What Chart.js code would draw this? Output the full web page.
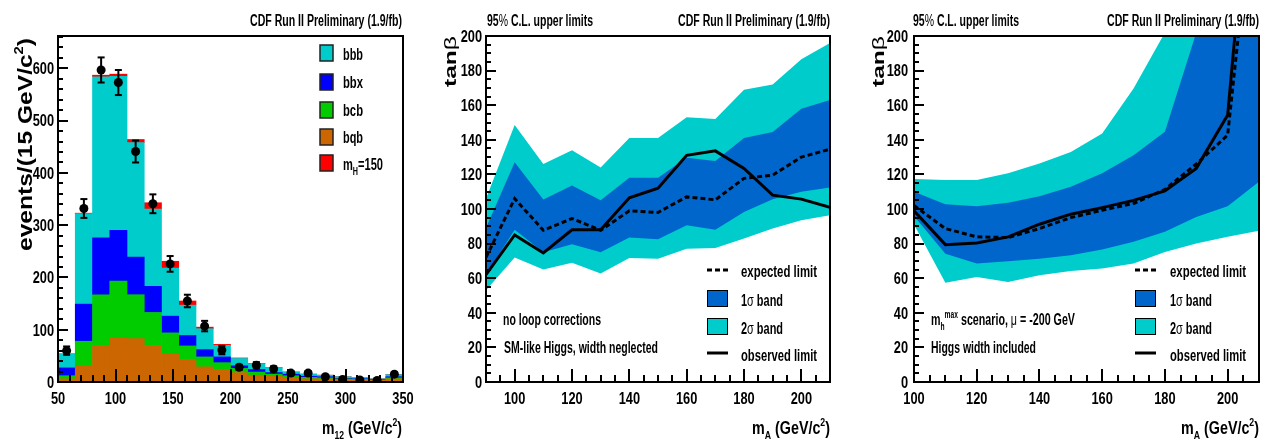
<!DOCTYPE html>
<html>
<head>
<meta charset="utf-8">
<script src="https://cdn.jsdelivr.net/npm/chart.js@4.4.1/dist/chart.umd.min.js"></script>
<style>
  html, body { margin: 0; padding: 0; background: #fff; width: 1266px; height: 439px; overflow: hidden; }
  canvas { position: absolute; left: 0; top: 0; }
</style>
</head>
<body>
<canvas id="hist" width="1266" height="439"></canvas>
<canvas id="limNoLoop" width="1266" height="439"></canvas>
<canvas id="limMhmax" width="1266" height="439"></canvas>
<script>
// ---- m12 spectrum: 15 GeV/c^2 bins from 50 to 350 ----
const binCenters = [57.5, 72.5, 87.5, 102.5, 117.5, 132.5, 147.5, 162.5, 177.5, 192.5,
                    207.5, 222.5, 237.5, 252.5, 267.5, 282.5, 297.5, 312.5, 327.5, 342.5];
const bqb      = [6, 31, 70, 85, 83, 70, 54, 43, 29, 24, 18, 13, 11, 9, 6, 6, 4, 4, 3, 6];
const bcb      = [6, 47, 97, 108, 84, 63, 40, 26, 19, 13, 8, 6, 4, 3, 3, 2, 2, 1, 1, 2];
const bbx      = [15, 71, 109, 97, 72, 50, 32, 20, 14, 11, 5, 5, 3, 3, 2, 2, 1, 1, 1, 2];
const bbb      = [26, 173, 308, 295, 219, 148, 92, 58, 40, 22, 14, 11, 9, 4, 4, 3, 3, 2, 1, 4];
const higgs150 = [1, 1, 3, 4, 6, 12, 13, 8, 3, 2, 1, 0.5, 0.5, 0.3, 0.2, 0.1, 0.1, 0.1, 0.1, 0.1];
const dataCounts = [60, 332, 597, 573, 441, 341, 226, 155, 107, 61, 28, 32, 25, 17, 17, 10, 5, 4, 3, 15];
const dataErrors = [8, 18, 24, 24, 21, 18, 15, 12, 10, 8, 5, 6, 5, 4, 4, 3, 2, 2, 2, 4];
const m12Ticks    = [50, 100, 150, 200, 250, 300, 350];
const eventsTicks = [0, 100, 200, 300, 400, 500, 600];

// ---- tan(beta) limits, no loop corrections ----
const mA1      = [90, 100, 110, 120, 130, 140, 150, 160, 170, 180, 190, 200, 210];
const nl2sUp   = [106, 148.5, 126, 134, 124, 141, 141, 153, 152, 169, 172, 186.5, 196];
const nl1sUp   = [89, 127, 105.5, 113.6, 105, 118, 118, 129.6, 127.7, 141, 144.5, 158, 163];
const nlExp    = [72, 106, 87.7, 94.5, 87.7, 99, 98, 107, 105.3, 117.7, 119.6, 130, 134.6];
const nl1sDown = [62, 88, 75, 79.6, 75, 83.5, 82.5, 90.6, 88, 98.3, 105.6, 110, 112.5];
const nl2sDown = [53, 72, 65, 69, 62.7, 71.7, 71.3, 77, 77.5, 83, 88.7, 93.5, 96.4];
const nlObs    = [62, 85, 74.6, 88, 88, 106.5, 112, 131, 133.6, 123.4, 108, 105.7, 101];

// ---- tan(beta) limits, m_h^max scenario, mu = -200 GeV ----
const mA2      = [100, 110, 120, 130, 140, 150, 160, 170, 180, 190, 200, 210];
const mx2sUp   = [117.3, 116.7, 116.7, 120.6, 126.3, 133, 143.7, 169.7, 202, 260, 300, 350];
const mx1sUp   = [110, 102.8, 101.6, 103.6, 107.4, 112.8, 120.6, 131, 144.6, 202, 260, 300];
const mxExp    = [102, 88.7, 83.9, 83.5, 88.7, 95, 99.3, 103.2, 111.3, 126, 142.7, 311];
const mx1sDown = [96, 74.2, 68.5, 69.8, 71.3, 73.3, 76.6, 81, 86.8, 95.4, 101.6, 115.7];
const mx2sDown = [91, 57.3, 60.7, 57.8, 61.7, 64.2, 65.6, 68.5, 75.2, 80, 84, 87.4];
const mxObs    = [99, 79.4, 80.4, 83.9, 91.2, 97, 100.8, 105, 110.5, 123.5, 154.3, 353];

const mATicks   = [100, 120, 140, 160, 180, 200];
const tanbTicks = [0, 20, 40, 60, 80, 100, 120, 140, 160, 180, 200];

// ---- styling ----
const SANS   = "'Liberation Sans', Arial, Helvetica, sans-serif";
const C_CYAN = '#00cccc', C_BLUE1S = '#0066cc';

const xy = (xs, ys) => xs.map((x, i) => ({ x, y: ys[i] }));

// Draws a run of text pieces (normal / sub / sup / symbol); squeezed to a width or by a factor.
function richText(ctx, parts, x, y, o) {
  if (typeof parts === 'string') parts = [{ t: parts }];
  const size = o.size || 15;
  const fontFor = p => {
    const s = (p.k === 'sub' || p.k === 'sup') ? Math.round(size * 0.62) : size;
    const w = p.k === 'sym' ? 'normal' : 'bold';
    return `${w} ${s}px ${SANS}`;
  };
  ctx.save();
  let total = 0;
  const widths = parts.map(p => { ctx.font = fontFor(p); const w = ctx.measureText(p.t).width; total += w; return w; });
  const sx = o.width ? o.width / total : (o.sx || 1);
  ctx.translate(x, y);
  if (o.rotate) ctx.rotate(o.rotate);
  const span = total * sx;
  ctx.translate(o.align === 'right' ? -span : o.align === 'center' ? -span / 2 : 0, 0);
  ctx.scale(sx, 1);
  ctx.fillStyle = '#000';
  ctx.textAlign = 'left';
  ctx.textBaseline = 'alphabetic';
  let cx = 0;
  parts.forEach((p, i) => {
    ctx.font = fontFor(p);
    const dy = p.k === 'sub' ? size * 0.3 : p.k === 'sup' ? -size * 0.45 : 0;
    ctx.fillText(p.t, cx, dy);
    cx += widths[i];
  });
  ctx.restore();
}

function seg(ctx, x1, y1, x2, y2) { ctx.beginPath(); ctx.moveTo(x1, y1); ctx.lineTo(x2, y2); ctx.stroke(); }

// Frame box, inward major/minor ticks and condensed tick labels on the left and bottom axes.
function frameTicks(opt) {
  return {
    id: 'frameTicks',
    afterDatasetsDraw(chart) {
      const { ctx, chartArea: a, scales: { x, y } } = chart;
      ctx.save();
      ctx.strokeStyle = '#000';
      ctx.lineWidth = 2;
      ctx.lineCap = 'butt';
      const nx = Math.round((x.max - opt.x0) / opt.xStep);
      for (let i = 0; i <= nx; i++) {
        const v = opt.x0 + i * opt.xStep;
        if (v < x.min - 1e-9) continue;
        const major = Math.abs(v / opt.xMajor - Math.round(v / opt.xMajor)) < 1e-6;
        const px = Math.round(x.getPixelForValue(v));
        seg(ctx, px, a.bottom, px, a.bottom - (major ? 13 : 7));
      }
      const ny = Math.floor((y.max - y.min) / opt.yStep + 1e-9);
      for (let i = 0; i <= ny; i++) {
        const v = y.min + i * opt.yStep;
        const major = Math.abs(v / opt.yMajor - Math.round(v / opt.yMajor)) < 1e-6;
        const py = Math.round(y.getPixelForValue(v));
        seg(ctx, a.left, py, a.left + (major ? 10 : 5), py);
      }
      ctx.strokeRect(a.left, a.top, a.right - a.left, a.bottom - a.top);
      ctx.restore();
      // tick labels from the scales' own ticks
      x.ticks.forEach(t => {
        richText(ctx, String(t.value), x.getPixelForValue(t.value), a.bottom + 22, { size: 16, sx: 0.8, align: 'center' });
      });
      y.ticks.forEach(t => {
        richText(ctx, String(t.value), a.left - opt.yPad, y.getPixelForValue(t.value) + 5.8, { size: 16, sx: 0.8, align: 'right' });
      });
      if (opt.texts) opt.texts(ctx, chart);
    }
  };
}

function axisCfg(min, max, ticks, fitW, fitH, stacked) {
  return {
    type: 'linear', min, max, offset: false, stacked: !!stacked,
    grid: { display: false, drawTicks: false },
    border: { display: false },
    ticks: { display: false, autoSkip: false },
    afterBuildTicks: s => { s.ticks = ticks.map(v => ({ value: v })); },
    afterFit: s => { if (fitW) s.width = fitW; if (fitH) s.height = fitH; }
  };
}

const common = {
  responsive: false,
  animation: false,
  events: [],
  plugins: { legend: { display: false }, tooltip: { enabled: false } }
};

// ---------- panel 1: m12 spectrum ----------
const barDs = (label, vals, color) => ({
  label, data: xy(binCenters, vals), backgroundColor: color, borderWidth: 0,
  barPercentage: 1, categoryPercentage: 1, stack: 'bkg', order: 1
});

const errorBars = {
  id: 'errorBars',
  afterDatasetsDraw(chart) {
    const { ctx, scales: { x, y } } = chart;
    ctx.save();
    ctx.strokeStyle = '#000';
    ctx.lineWidth = 2;
    binCenters.forEach((c, i) => {
      const px = x.getPixelForValue(c);
      const hi = y.getPixelForValue(dataCounts[i] + dataErrors[i]);
      const lo = y.getPixelForValue(Math.max(0, dataCounts[i] - dataErrors[i]));
      seg(ctx, px, lo, px, hi);
      seg(ctx, px - 3.5, hi, px + 3.5, hi);
      seg(ctx, px - 3.5, lo, px + 3.5, lo);
    });
    ctx.restore();
  }
};

function histTexts(ctx) {
  richText(ctx, 'CDF Run II Preliminary (1.9/fb)', 402, 26, { size: 16, width: 152, align: 'right' });
  richText(ctx, [{ t: 'events/(15 GeV/c' }, { t: '2', k: 'sup' }, { t: ')' }], 32, 251,
           { size: 20, width: 213, rotate: -Math.PI / 2 });
  richText(ctx, [{ t: 'm' }, { t: '12', k: 'sub' }, { t: ' (GeV/c' }, { t: '2', k: 'sup' }, { t: ')' }], 402, 434,
           { size: 18, width: 80, align: 'right' });
  const entries = [
    ['bbb', C_CYAN, 45, 60, 20], ['bbx', '#0000ff', 74, 88, 20], ['bcb', '#00cc00', 102, 116, 20],
    ['bqb', '#cc6600', 129, 143, 20], [null, '#ff0000', 155, 170, 40]
  ];
  entries.forEach(([t, col, by, ty, w]) => {
    ctx.save();
    ctx.fillStyle = col;
    ctx.fillRect(320, by, 13, 16);
    ctx.strokeStyle = '#222';
    ctx.lineWidth = 1.5;
    ctx.strokeRect(320, by, 13, 16);
    ctx.restore();
    if (t) richText(ctx, t, 343, ty, { size: 17, width: w });
    else richText(ctx, [{ t: 'm' }, { t: 'H', k: 'sub' }, { t: '=150' }], 343, ty, { size: 17, width: w });
  });
}

new Chart(document.getElementById('hist'), {
  type: 'bar',
  data: {
    datasets: [
      barDs('bqb', bqb, '#cc6600'),
      barDs('bcb', bcb, '#00cc00'),
      barDs('bbx', bbx, '#0000ff'),
      barDs('bbb', bbb, C_CYAN),
      barDs('mH=150', higgs150, '#ff0000'),
      {
        type: 'line', label: 'data', data: xy(binCenters, dataCounts), showLine: false,
        pointRadius: 4.5, pointBackgroundColor: '#000', pointBorderWidth: 0, stack: 'obs', order: 0
      }
    ]
  },
  options: {
    ...common,
    layout: { padding: { left: 0, top: 36, right: 1266 - 403, bottom: 0 } },
    scales: {
      x: axisCfg(50, 350, m12Ticks, 0, 57, true),
      y: axisCfg(0, 662, eventsTicks, 58, 0, true)
    }
  },
  plugins: [errorBars, frameTicks({ x0: 50, xStep: 10, xMajor: 50, yStep: 20, yMajor: 100, yPad: 4, texts: histTexts })]
});

// ---------- panels 2 and 3: tan(beta) limits ----------
function limitDatasets(xs, s2lo, s2hi, s1lo, s1hi, exp, obs) {
  const band = (label, ys, order, fill, color) => ({
    label, data: xy(xs, ys), borderColor: 'transparent', borderWidth: 0, pointRadius: 0,
    tension: 0, fill, backgroundColor: color, order
  });
  return [
    band('2σ low', s2lo, 6, false, 'transparent'),
    band('2σ band', s2hi, 5, { target: 0 }, C_CYAN),
    band('1σ low', s1lo, 4, false, 'transparent'),
    band('1σ band', s1hi, 3, { target: 2 }, C_BLUE1S),
    { label: 'expected limit', data: xy(xs, exp), borderColor: '#000', borderWidth: 3, borderDash: [5, 3],
      pointRadius: 0, tension: 0, fill: false, order: 2 },
    { label: 'observed limit', data: xy(xs, obs), borderColor: '#000', borderWidth: 3,
      pointRadius: 0, tension: 0, fill: false, order: 1 }
  ];
}

function limitLegend(ctx, bx, tx) {
  ctx.save();
  ctx.strokeStyle = '#000';
  ctx.lineWidth = 3;
  ctx.setLineDash([5, 3]);
  seg(ctx, bx, 270, bx + 21, 270);
  ctx.setLineDash([]);
  seg(ctx, bx, 353, bx + 21, 353);
  ctx.lineWidth = 1;
  ctx.fillStyle = C_BLUE1S; ctx.fillRect(bx, 290, 21, 17); ctx.strokeRect(bx + 0.5, 290.5, 20, 16);
  ctx.fillStyle = C_CYAN;   ctx.fillRect(bx, 318, 21, 17); ctx.strokeRect(bx + 0.5, 318.5, 20, 16);
  ctx.restore();
  richText(ctx, 'expected limit', tx, 277, { size: 16, width: 76 });
  richText(ctx, [{ t: '1' }, { t: 'σ', k: 'sym' }, { t: ' band' }], tx, 306, { size: 16, width: 42 });
  richText(ctx, [{ t: '2' }, { t: 'σ', k: 'sym' }, { t: ' band' }], tx, 334, { size: 16, width: 42 });
  richText(ctx, 'observed limit', tx, 361, { size: 16, width: 76 });
}

function limitHeader(ctx, left, right, tanbX) {
  richText(ctx, [{ t: '95' }, { t: '%', k: 'sym' }, { t: ' C.L. upper limits' }], left, 26, { size: 16, width: 106 });
  richText(ctx, 'CDF Run II Preliminary (1.9/fb)', right, 26, { size: 16, width: 152, align: 'right' });
  richText(ctx, [{ t: 'tan' }, { t: 'β', k: 'sym' }], tanbX, 87, { size: 17, width: 51, rotate: -Math.PI / 2 });
  richText(ctx, [{ t: 'm' }, { t: 'A', k: 'sub' }, { t: ' (GeV/c' }, { t: '2', k: 'sup' }, { t: ')' }], right, 434,
           { size: 18, width: 78, align: 'right' });
}

new Chart(document.getElementById('limNoLoop'), {
  type: 'line',
  data: { datasets: limitDatasets(mA1, nl2sDown, nl2sUp, nl1sDown, nl1sUp, nlExp, nlObs) },
  options: {
    ...common,
    layout: { padding: { left: 425, top: 36, right: 1266 - 830, bottom: 0 } },
    scales: {
      x: axisCfg(90, 210, mATicks, 0, 57),
      y: axisCfg(0, 200, tanbTicks, 61, 0)
    }
  },
  plugins: [frameTicks({
    x0: 90, xStep: 5, xMajor: 20, yStep: 5, yMajor: 20, yPad: 4,
    texts: ctx => {
      limitHeader(ctx, 487, 830, 456);
      limitLegend(ctx, 707, 741);
      richText(ctx, 'no loop corrections', 503, 325, { size: 16, width: 98 });
      richText(ctx, 'SM-like Higgs, width neglected', 504, 353, { size: 16, width: 154 });
    }
  })]
});

new Chart(document.getElementById('limMhmax'), {
  type: 'line',
  data: { datasets: limitDatasets(mA2, mx2sDown, mx2sUp, mx1sDown, mx1sUp, mxExp, mxObs) },
  options: {
    ...common,
    layout: { padding: { left: 845, top: 36, right: 1266 - 1259, bottom: 0 } },
    scales: {
      x: axisCfg(100, 210, mATicks, 0, 57),
      y: axisCfg(0, 200, tanbTicks, 69, 0)
    }
  },
  plugins: [frameTicks({
    x0: 100, xStep: 5, xMajor: 20, yStep: 5, yMajor: 20, yPad: 6,
    texts: ctx => {
      limitHeader(ctx, 913, 1259, 884);
      limitLegend(ctx, 1135, 1170);
      richText(ctx, [{ t: 'm' }, { t: 'h', k: 'sub' }, { t: 'max', k: 'sup' }, { t: ' scenario, ' },
                     { t: 'μ', k: 'sym' }, { t: ' = -200 GeV' }], 931, 325, { size: 16, width: 144 });
      richText(ctx, 'Higgs width included', 931, 353, { size: 16, width: 105 });
    }
  })]
});
</script>
</body>
</html>
